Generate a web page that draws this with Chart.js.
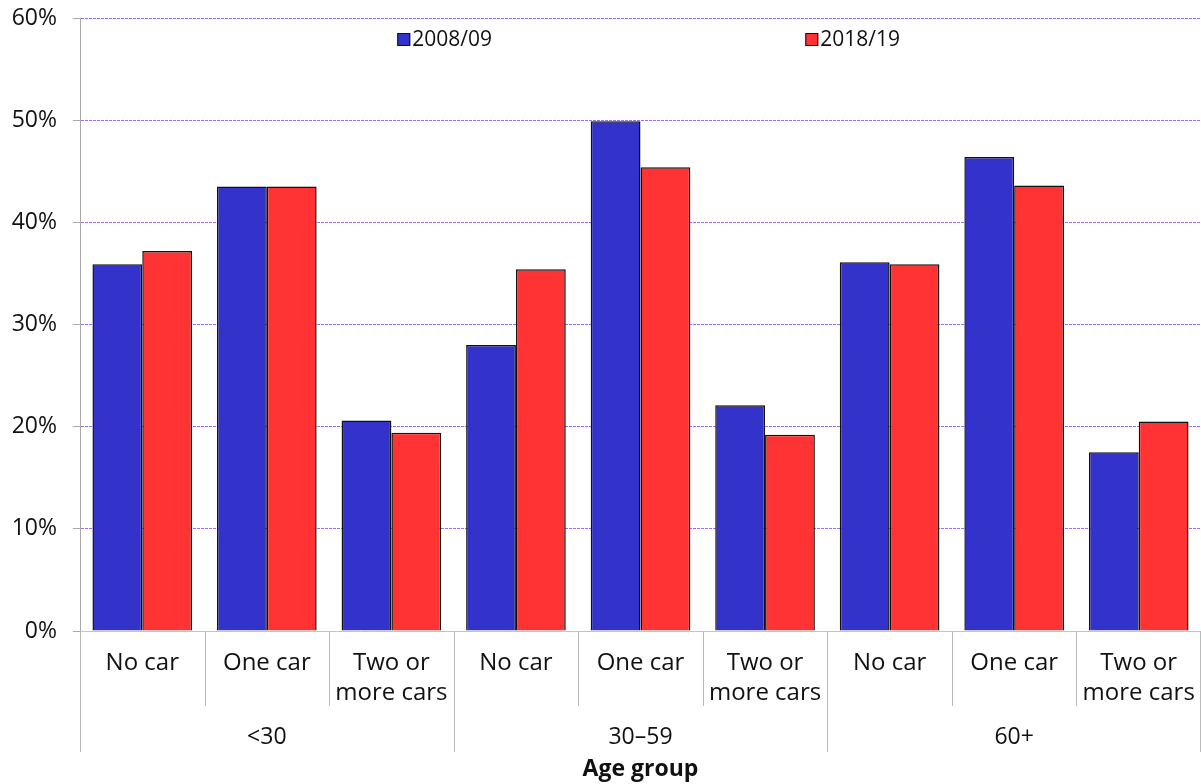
<!DOCTYPE html>
<html>
<head>
<meta charset="utf-8">
<script src="https://cdn.jsdelivr.net/npm/chart.js@4/dist/chart.umd.min.js"></script>
<style>
  html, body { margin: 0; padding: 0; background: #fff; }
  #wrap { width: 1201px; height: 784px; }
</style>
</head>
<body>
<div id="wrap"><canvas id="carChart" width="1201" height="784"></canvas></div>
<script>
const ageGroups  = ['<30', '30–59', '60+'];
const carLabels  = [['No car'], ['One car'], ['Two or', 'more cars']];
const seriesNames = ['2008/09', '2018/19'];
const values2008 = [35.9, 43.5, 20.6, 28.0, 49.9, 22.1, 36.1, 46.4, 17.5];
const values2018 = [37.2, 43.5, 19.4, 35.4, 45.4, 19.2, 35.9, 43.6, 20.5];
const yTicks     = [0, 10, 20, 30, 40, 50, 60];

const categories = ageGroups.flatMap(() => carLabels);
const FONT = '"Open Sans"';

// separators under the x axis, group names, axis title and the legend
const groupPlugin = {
  id: 'groups',
  afterDraw(chart) {
    const { ctx, chartArea, scales: { x } } = chart;
    const half = (x.getPixelForValue(1) - x.getPixelForValue(0)) / 2;
    const per  = carLabels.length;

    ctx.save();
    ctx.strokeStyle = '#bbbbbb';
    ctx.lineWidth = 1;
    for (let i = 0; i <= categories.length; i++) {
      const px = i < categories.length ? x.getPixelForValue(i) - half : x.getPixelForValue(i - 1) + half;
      const xx = Math.min(Math.round(px), chart.width - 1) + 0.5;
      ctx.beginPath();
      ctx.moveTo(xx, chartArea.bottom);
      ctx.lineTo(xx, chartArea.bottom + (i % per === 0 ? 121 : 75));
      ctx.stroke();
    }

    ctx.fillStyle = '#111';
    ctx.textAlign = 'center';
    ctx.textBaseline = 'middle';
    ctx.font = `23px ${FONT}`;
    ageGroups.forEach((g, gi) => {
      const mid = x.getPixelForValue(gi * per + (per - 1) / 2);
      ctx.fillText(g, mid, chartArea.bottom + 106);
    });

    ctx.font = `bold 23px ${FONT}`;
    ctx.fillText('Age group', (chartArea.left + chartArea.right) / 2, chartArea.bottom + 138);

    // legend
    const spots = [0.283, 0.647];
    ctx.font = `21px ${FONT}`;
    ctx.textAlign = 'left';
    chart.data.datasets.forEach((ds, i) => {
      const bx = chartArea.left + spots[i] * (chartArea.right - chartArea.left);
      const by = chartArea.top + 15;
      ctx.fillStyle = ds.backgroundColor;
      ctx.fillRect(bx, by, 13, 13);
      ctx.strokeStyle = '#111';
      ctx.strokeRect(bx + 0.5, by + 0.5, 12, 12);
      ctx.fillStyle = '#111';
      ctx.fillText(ds.label, bx + 15, by + 7);
    });
    ctx.restore();
  }
};

new Chart(document.getElementById('carChart'), {
  type: 'bar',
  data: {
    labels: categories,
    datasets: [
      { label: seriesNames[0], data: values2008, backgroundColor: '#3333cc', borderColor: '#111', borderWidth: 1.5 },
      { label: seriesNames[1], data: values2018, backgroundColor: '#ff3333', borderColor: '#111', borderWidth: 1.5 }
    ]
  },
  options: {
    responsive: false,
    animation: false,
    layout: { padding: { top: 18, right: 0, bottom: 0, left: 0 } },
    datasets: { bar: { categoryPercentage: 0.8, barPercentage: 1 } },
    plugins: { legend: { display: false }, tooltip: { enabled: false } },
    scales: {
      x: {
        grid: { display: false },
        border: { color: '#c4c4c4', width: 1 },
        ticks: { color: '#111', font: { family: 'Open Sans', size: 24, lineHeight: 1.25 }, padding: 9, maxRotation: 0, autoSkip: false },
        afterFit: s => { s.height = 153; s.paddingLeft = 0; s.paddingRight = 0; }
      },
      y: {
        min: 0, max: 60,
        afterBuildTicks: s => { s.ticks = yTicks.map(v => ({ value: v })); },
        grid: { color: ctx => ctx.tick && ctx.tick.value === 0 ? '#c4c4c4' : '#9b6bff', tickColor: '#aaaaaa', tickLength: 7, lineWidth: 1 },
        border: { color: '#aaaaaa', width: 1, dash: [3, 1] },
        ticks: { color: '#111', font: { family: 'Open Sans', size: 23 }, padding: 16, callback: v => v + '%' },
        afterFit: s => { s.width = 80; s.paddingTop = 0; s.paddingBottom = 0; }
      }
    }
  },
  plugins: [groupPlugin]
});
</script>
</body>
</html>
